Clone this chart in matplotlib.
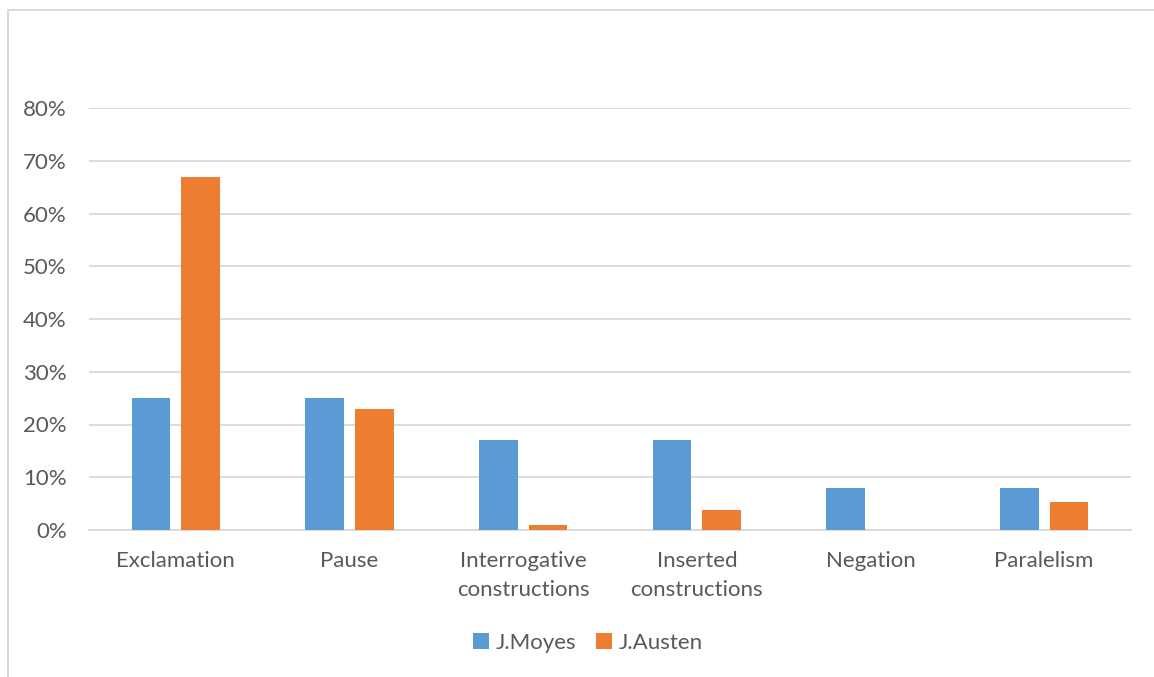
import matplotlib.pyplot as plt
import matplotlib.patches as mpatches
from matplotlib.ticker import PercentFormatter
import numpy as np

# Chart data
categories = ['Exclamation', 'Pause', 'Interrogative\nconstructions',
              'Inserted\nconstructions', 'Negation', 'Paralelism']
moyes = [25, 25, 17, 17, 8, 8]
austen = [67, 23, 0.9, 3.8, 0, 5.4]

W, H = 1154, 677
fig = plt.figure(figsize=(W / 100, H / 100), dpi=100)
plt.rcParams['font.family'] = ['Lato', 'DejaVu Sans']
text_col = '#595959'
grid_col = '#d9d9d9'

# outer chart border (cropped at right/bottom)
fig.patches.append(mpatches.Rectangle((8 / W, -0.1), 1.2, 1 - 10 / H + 0.1,
                                      transform=fig.transFigure, fill=False,
                                      edgecolor=grid_col, linewidth=1.5))

ax = fig.add_axes([89 / W, 1 - 530 / H, (1131 - 89) / W, (530 - 108) / H])
x = np.arange(len(categories))
bw = 0.224
off = 0.143
ax.bar(x - off, moyes, bw, color='#5B9BD5', label='J.Moyes', zorder=3)
ax.bar(x + off, austen, bw, color='#ED7D31', label='J.Austen', zorder=3)

ax.set_xlim(-0.5, len(categories) - 0.5)
ax.set_ylim(0, 80)
ax.set_yticks(range(0, 81, 10))
ax.yaxis.set_major_formatter(PercentFormatter(decimals=0))
ax.grid(axis='y', color=grid_col, linewidth=1.3, zorder=0)
for s in ['top', 'right', 'left']:
    ax.spines[s].set_visible(False)
ax.spines['bottom'].set_color(grid_col)
ax.spines['bottom'].set_linewidth(1.3)
ax.tick_params(axis='both', length=0, colors=text_col, labelsize=16)
ax.tick_params(axis='y', pad=16)
ax.tick_params(axis='x', pad=15)
ax.set_xticks(x)
ax.set_xticklabels(categories, linespacing=1.6)

leg = fig.legend(loc='center', bbox_to_anchor=(588 / W, 1 - 643 / H), ncol=2,
                 frameon=False, fontsize=16, handlelength=0.7, handleheight=0.7,
                 handletextpad=0.3, columnspacing=0.9)
for t in leg.get_texts():
    t.set_color(text_col)

fig.savefig('out.png', dpi=100)
